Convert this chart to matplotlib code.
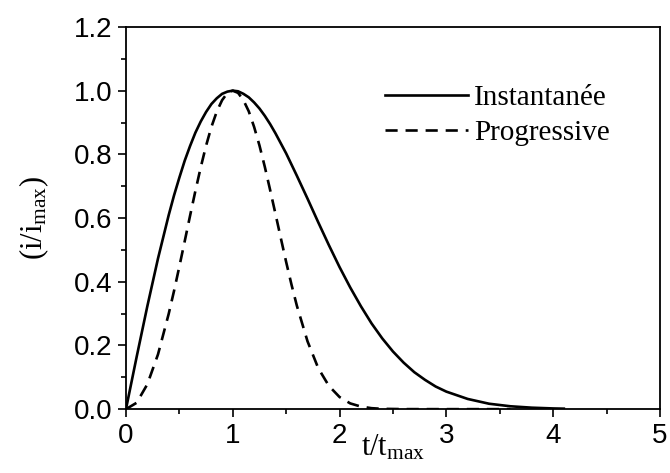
import matplotlib
matplotlib.use("Agg")
import matplotlib.pyplot as plt
from matplotlib.ticker import MultipleLocator, FormatStrFormatter

# Instantaneous (solid) curve
t_inst = [0, 0.1, 0.2, 0.3, 0.4, 0.45, 0.5, 0.55, 0.6, 0.65, 0.7, 0.75, 0.8, 0.85,
          0.9, 0.95, 1.0, 1.05, 1.1, 1.15, 1.2, 1.25, 1.3, 1.35, 1.4,
          1.5, 1.6, 1.7, 1.8, 1.9, 2.0, 2.1, 2.2, 2.3, 2.4, 2.5, 2.6, 2.7, 2.8, 2.9,
          3.0, 3.2, 3.4, 3.6, 3.8, 4.0, 4.1]
i_inst = [0, 0.164, 0.323, 0.473, 0.609, 0.671, 0.727, 0.780, 0.826, 0.868, 0.903,
          0.933, 0.958, 0.976, 0.990, 0.997, 1.000, 0.998, 0.990, 0.979, 0.963,
          0.944, 0.921, 0.895, 0.866, 0.803, 0.733, 0.661, 0.587, 0.515, 0.446,
          0.382, 0.323, 0.269, 0.222, 0.181, 0.146, 0.116, 0.092, 0.071, 0.055,
          0.032, 0.017, 0.009, 0.0046, 0.0022, 0.0015]

# Progressive (dashed) curve
t_prog = [0, 0.1, 0.2, 0.3, 0.4, 0.45, 0.5, 0.55, 0.6, 0.65, 0.7, 0.75, 0.8, 0.85,
          0.9, 0.95, 1.0, 1.05, 1.1, 1.15, 1.2, 1.25, 1.3, 1.35, 1.4, 1.45,
          1.5, 1.55, 1.6, 1.7, 1.8, 1.9, 2.0, 2.1, 2.2, 2.3, 2.4, 2.6, 3.0, 3.6]
i_prog = [0, 0.020, 0.078, 0.172, 0.299, 0.371, 0.448, 0.527, 0.607, 0.685, 0.759,
          0.827, 0.886, 0.934, 0.970, 0.993, 1.000, 0.993, 0.970, 0.935, 0.886,
          0.828, 0.761, 0.688, 0.613, 0.537, 0.462, 0.391, 0.325, 0.213, 0.129,
          0.073, 0.038, 0.018, 0.008, 0.003, 0.001, 0.0001, 0.0, 0.0]

series_labels = ["Instantanée", "Progressive"]
xlabel = r"$\mathrm{t/t_{max}}$"
ylabel = r"$\mathrm{(i/i_{max})}$"

plt.rcParams['mathtext.fontset'] = 'custom'
plt.rcParams['mathtext.rm'] = 'Liberation Serif'
plt.rcParams['mathtext.it'] = 'Liberation Serif:italic'

fig = plt.figure(figsize=(6.70, 4.73), dpi=100)
ax = fig.add_axes([0.188, 0.135, 0.797, 0.808])

ax.plot(t_inst, i_inst, color='black', lw=1.9, label=series_labels[0])
ax.plot(t_prog, i_prog, color='black', lw=1.9, dashes=(4.6, 3.0), label=series_labels[1])

ax.set_xlim(0, 5)
ax.set_ylim(0, 1.2)
ax.xaxis.set_major_locator(MultipleLocator(1))
ax.xaxis.set_minor_locator(MultipleLocator(0.5))
ax.yaxis.set_major_locator(MultipleLocator(0.2))
ax.yaxis.set_minor_locator(MultipleLocator(0.1))
ax.tick_params(which='both', direction='out', top=False, right=False, width=1.2)
ax.tick_params(which='major', length=6, labelsize=20, pad=4)
ax.tick_params(which='minor', length=3.5)
ax.yaxis.set_major_formatter(FormatStrFormatter('%.1f'))
for lab in ax.get_xticklabels() + ax.get_yticklabels():
    lab.set_fontfamily('Liberation Sans')
for s in ax.spines.values():
    s.set_linewidth(1.3)

ax.set_xlabel(xlabel, fontsize=22)
ax.set_ylabel(ylabel, fontsize=22)
ax.xaxis.set_label_coords(0.5, -0.062)
ax.yaxis.set_label_coords(-0.14, 0.5)

leg = ax.legend(loc='upper left', bbox_to_anchor=(0.485, 0.848), frameon=False,
                prop={'family': 'Liberation Serif', 'size': 21},
                handlelength=2.85, handletextpad=0.2, labelspacing=0.27,
                borderaxespad=0, borderpad=0)

fig.savefig('out.png', dpi=100)
